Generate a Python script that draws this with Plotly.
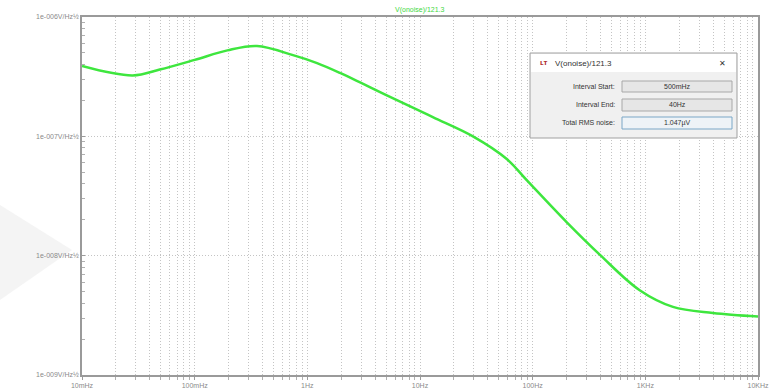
import plotly.graph_objects as go

# Data (frequency in Hz, noise density in V/sqrt(Hz))
freq_hz = [0.01, 0.0282, 0.049, 0.1, 0.195, 0.357, 0.746, 1.22, 1.95, 5.42,
           13.0, 29.5, 58.9, 89.0, 200.0, 398.0, 891.0, 1758.0, 3981.0, 10000.0]
noise_v = [3.89e-7, 3.24e-7, 3.63e-7, 4.37e-7, 5.25e-7, 5.71e-7, 4.79e-7, 4.11e-7,
           3.40e-7, 2.14e-7, 1.45e-7, 1.0e-7, 6.46e-8, 4.27e-8, 1.91e-8, 1.01e-8,
           5.13e-9, 3.72e-9, 3.31e-9, 3.09e-9]

x_tickvals = [0.01, 0.1, 1, 10, 100, 1000, 10000]
x_ticktext = ["10mHz", "100mHz", "1Hz", "10Hz", "100Hz", "1KHz", "10KHz"]
y_tickvals = [1e-9, 1e-8, 1e-7, 1e-6]
y_ticktext = ["1e-009V/Hz½", "1e-008V/Hz½", "1e-007V/Hz½", "1e-006V/Hz½"]

trace_name = "V(onoise)/121.3"
dlg_labels = ["Interval Start:", "Interval End:", "Total RMS noise:"]
dlg_values = ["500mHz", "40Hz", "1.047µV"]

W, H = 773, 388
L, R, T, B = 82, 758, 17, 375

def px(x):
    return (x - L) / (R - L)

def py(y):
    return (B - y) / (B - T)

fig = go.Figure()
fig.add_trace(go.Scatter(x=freq_hz, y=noise_v, mode="lines",
                         line=dict(color="#3ee63e", width=2.5, shape="spline", smoothing=1.0),
                         name=trace_name, showlegend=False, hoverinfo="skip"))

gridc = "#c4c4c4"
gdash = "1px,2px"
fig.update_layout(
    width=W, height=H,
    margin=dict(l=L, r=W - R, t=T, b=H - B),
    paper_bgcolor="white", plot_bgcolor="white",
    font=dict(family="Liberation Sans, Arial, sans-serif", size=7, color="#8a8a8a"),
    showlegend=False,
)
fig.update_xaxes(type="log", range=[-2, 4], tickvals=x_tickvals, ticktext=x_ticktext,
                 automargin=False,
                 showline=True, linecolor="#9a9a9a", linewidth=1.5, mirror=True,
                 showgrid=True, gridcolor=gridc, griddash=gdash, gridwidth=1,
                 ticks="outside", ticklen=3, tickcolor="#9a9a9a",
                 minor=dict(dtick="D1", showgrid=True, gridcolor=gridc, griddash=gdash, gridwidth=1,
                            ticks="outside", ticklen=3, tickcolor="#b0b0b0"),
                 zeroline=False, tickfont=dict(size=7, color="#8a8a8a"))
fig.update_yaxes(type="log", range=[-9, -6], tickvals=y_tickvals, ticktext=y_ticktext,
                 automargin=False,
                 showline=True, linecolor="#9a9a9a", linewidth=1.5, mirror=True,
                 showgrid=True, gridcolor=gridc, griddash=gdash, gridwidth=1,
                 ticks="inside", ticklen=3, tickcolor="#9a9a9a",
                 minor=dict(dtick="D1", showgrid=False, ticks="inside", ticklen=3, tickcolor="#b0b0b0"),
                 zeroline=False, tickfont=dict(size=7, color="#8a8a8a"))

def note(x, y, text, size=7, color="#333333", xanchor="center"):
    fig.add_annotation(x=px(x), y=py(y), xref="paper", yref="paper", text=text,
                       showarrow=False, xanchor=xanchor, yanchor="middle",
                       font=dict(size=size, color=color))

# Title
note(420, 10, trace_name, size=7, color="#3ed83e")

# Faint watermark arrow at the left
fig.add_shape(type="path", xref="paper", yref="paper",
              path=f"M {px(0)} {py(205)} L {px(72)} {py(250)} L {px(0)} {py(300)} Z",
              fillcolor="rgba(240,240,240,0.7)", line=dict(width=0), layer="below")

# Dialog box
fig.add_shape(type="rect", xref="paper", yref="paper",
              x0=px(530), x1=px(737), y0=py(138), y1=py(53),
              fillcolor="#f0f0f0", line=dict(color="#a0a0a0", width=1))
fig.add_shape(type="rect", xref="paper", yref="paper",
              x0=px(531), x1=px(736), y0=py(72), y1=py(54),
              fillcolor="#ffffff", line=dict(width=0))
note(553, 63, trace_name, size=8, xanchor="left")
note(538, 62, "<b>ʟᴛ</b>", size=8, color="#b03030", xanchor="left")
note(722, 63, "✕", size=8)
rows_y = [(81, 92), (99, 111), (117, 129)]
for i, (lab, val) in enumerate(zip(dlg_labels, dlg_values)):
    y0, y1 = rows_y[i]
    border = "#7aa7c7" if i == 2 else "#a8a8a8"
    fill = "#eef3f7" if i == 2 else "#e6e6e6"
    fig.add_shape(type="rect", xref="paper", yref="paper",
                  x0=px(622), x1=px(732), y0=py(y1), y1=py(y0),
                  fillcolor=fill, line=dict(color=border, width=1))
    note(617, (y0 + y1) / 2, lab, xanchor="right")
    note(677, (y0 + y1) / 2, val)

fig.write_html("out.html")
